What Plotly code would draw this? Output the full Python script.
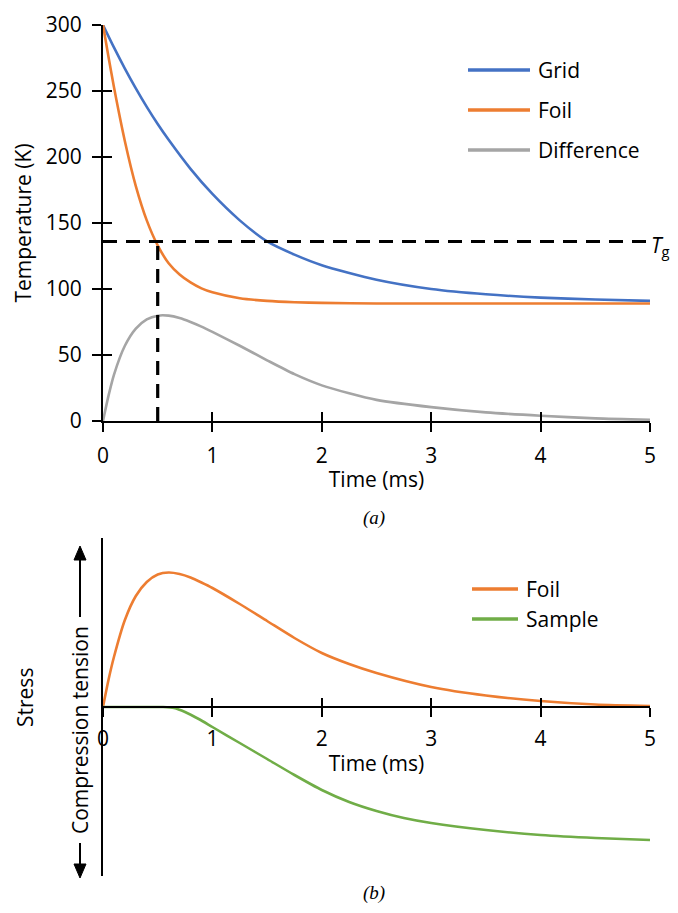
import plotly.graph_objects as go

# ---------------- data ----------------
t_grid = [0, 0.1, 0.2, 0.3, 0.4, 0.5, 0.6, 0.8, 1.0, 1.25, 1.5, 1.75, 2.0, 2.5, 3.0, 3.5, 4.0, 4.5, 5.0]
grid_T = [300, 283, 267, 252, 238, 225, 213, 191, 172, 152, 136, 126, 118, 107, 100, 96, 93.5, 92, 91]

t_foil = [0, 0.05, 0.1, 0.2, 0.3, 0.4, 0.5, 0.6, 0.7, 0.8, 0.9, 1.0, 1.25, 1.5, 1.75, 2.0, 2.5, 3.0, 4.0, 5.0]
foil_T = [300, 276, 253, 212, 178, 152, 133, 119.5, 111, 105, 100.5, 97.5, 93, 91, 90, 89.5, 89, 89, 89, 89]

t_diff = [0, 0.05, 0.1, 0.2, 0.3, 0.4, 0.5, 0.6, 0.7, 0.8, 0.9, 1.0, 1.25, 1.5, 1.75, 2.0, 2.25, 2.5, 3.0, 3.5, 4.0, 4.5, 5.0]
diff_T = [0, 19, 35, 57, 70, 77, 79.8, 79.8, 78, 75, 71.5, 67.5, 57, 46, 35.5, 27, 21, 16, 10.5, 6.5, 4, 2, 1]

TG_VALUE = 136     # glass transition temperature (K)
T_CROSS = 0.5      # time at which the foil reaches Tg (ms)

t_sf = [0, 0.05, 0.1, 0.2, 0.3, 0.4, 0.5, 0.6, 0.7, 0.8, 0.9, 1.0, 1.25, 1.5, 1.75, 2.0, 2.25, 2.5, 3.0, 3.5, 4.0, 4.5, 5.0]
stress_foil = [0, 27, 50, 87, 111, 125, 132.5, 134.5, 133, 129.5, 124.5, 119, 103, 86, 69, 54, 43, 34, 20, 11.5, 6, 2.5, 1]

t_ss = [0, 0.2, 0.4, 0.55, 0.65, 0.75, 0.875, 1.0, 1.25, 1.5, 1.75, 2.0, 2.25, 2.5, 2.75, 3.0, 3.5, 4.0, 4.5, 5.0]
stress_sample = [0, 0, 0, 0, -1, -5, -12, -20, -36, -52, -68, -83, -95, -104, -111, -116, -123, -128, -131, -133]

x_ticks = [0, 1, 2, 3, 4, 5]
y_ticks = [0, 50, 100, 150, 200, 250, 300]

# ---------------- styling ----------------
OFF = 8                      # page body margin of the browser
W, H = 678 - 2 * OFF, 913 - 2 * OFF
BLUE, ORANGE, GRAY, GREEN = "#4472C4", "#ED7D31", "#A5A5A5", "#70AD47"
FONT = "Open Sans"
FS = 21

def px_x(p):
    return (p - OFF) / W

def px_y(p):
    return 1 - (p - OFF) / H

xdom = [px_x(103), px_x(650)]
ydom_a = [px_y(421), px_y(25)]
ydom_b = [px_y(876), px_y(538)]

fig = go.Figure()

line_w = 2.6
spl = dict(shape="spline", smoothing=0.7)
fig.add_trace(go.Scatter(x=t_grid, y=grid_T, mode="lines", name="Grid",
                         line=dict(color=BLUE, width=line_w, **spl),
                         xaxis="x", yaxis="y", showlegend=False))
fig.add_trace(go.Scatter(x=t_foil, y=foil_T, mode="lines", name="Foil",
                         line=dict(color=ORANGE, width=line_w, **spl),
                         xaxis="x", yaxis="y", showlegend=False))
fig.add_trace(go.Scatter(x=t_diff, y=diff_T, mode="lines", name="Difference",
                         line=dict(color=GRAY, width=line_w, **spl),
                         xaxis="x", yaxis="y", showlegend=False))
# Tg dashed guide lines
fig.add_trace(go.Scatter(x=[x_ticks[0], x_ticks[-1]], y=[TG_VALUE, TG_VALUE], mode="lines",
                         line=dict(color="black", width=3.2, dash="14px,9px"),
                         xaxis="x", yaxis="y", showlegend=False, hoverinfo="skip"))
fig.add_trace(go.Scatter(x=[T_CROSS, T_CROSS], y=[0, TG_VALUE], mode="lines",
                         line=dict(color="black", width=3.2, dash="14px,9px"),
                         xaxis="x", yaxis="y", showlegend=False, hoverinfo="skip"))

# bottom panel
fig.add_trace(go.Scatter(x=t_sf, y=stress_foil, mode="lines", name="Foil",
                         line=dict(color=ORANGE, width=line_w, **spl),
                         xaxis="x2", yaxis="y2", showlegend=False))
fig.add_trace(go.Scatter(x=t_ss, y=stress_sample, mode="lines", name="Sample",
                         line=dict(color=GREEN, width=line_w, **spl),
                         xaxis="x2", yaxis="y2", showlegend=False))

# dummy traces for overlay (inside-tick) axes
fig.add_trace(go.Scatter(x=[None], y=[None], xaxis="x3", yaxis="y3", showlegend=False, hoverinfo="skip"))
fig.add_trace(go.Scatter(x=[None], y=[None], xaxis="x4", yaxis="y2", showlegend=False, hoverinfo="skip"))

tickfont = dict(family=FONT, size=FS, color="#000000")
common = dict(showgrid=False, zeroline=False, linecolor="black", linewidth=2,
              tickcolor="black", tickwidth=2, ticklen=9, automargin=False)

fig.update_layout(
    width=W, height=H, margin=dict(l=0, r=0, t=0, b=0, autoexpand=False),
    paper_bgcolor="white", plot_bgcolor="white",
    font=dict(family=FONT, size=FS, color="#000000"),
    xaxis=dict(domain=xdom, range=[0, 5], anchor="y", showline=True, ticks="outside",
               tickvals=x_ticks, tickfont=tickfont, ticklabelstandoff=6,
               title=dict(text="Time (ms)", font=tickfont, standoff=4), **common),
    yaxis=dict(domain=ydom_a, range=[0, 300], anchor="x", showline=True, ticks="outside",
               tickvals=y_ticks, tickfont=tickfont, ticklabelstandoff=6,
               title=dict(text="Temperature (K)", font=tickfont, standoff=8), **common),
    xaxis3=dict(overlaying="x", range=[0, 5], anchor="y", ticks="inside", tickvals=x_ticks,
                showticklabels=False, showline=False, **common),
    yaxis3=dict(overlaying="y", range=[0, 300], anchor="x", ticks="inside", tickvals=y_ticks,
                showticklabels=False, showline=False, **common),
    xaxis2=dict(domain=xdom, range=[0, 5], anchor="free", position=px_y(707), showline=True,
                ticks="outside", tickvals=x_ticks, tickfont=tickfont, ticklabelstandoff=4,
                title=dict(text="Time (ms)", font=tickfont, standoff=4), **common),
    xaxis4=dict(overlaying="x2", range=[0, 5], anchor="free", position=px_y(707), showline=False,
                ticks="inside", tickvals=x_ticks, showticklabels=False, **common),
    yaxis2=dict(domain=ydom_b, range=[-169, 169], anchor="x2", showline=True, ticks="",
                showticklabels=False, **common),
)

# manual legends
def legend_item(y_px, x0, x1, color, label):
    fig.add_shape(type="line", xref="paper", yref="paper", x0=px_x(x0), x1=px_x(x1),
                  y0=px_y(y_px), y1=px_y(y_px), line=dict(color=color, width=3.5))
    fig.add_annotation(xref="paper", yref="paper", x=px_x(x1 + 6), y=px_y(y_px), text=label,
                       showarrow=False, xanchor="left", yanchor="middle",
                       font=dict(family=FONT, size=FS, color="#000000"))

legend_item(70, 468, 530, BLUE, "Grid")
legend_item(110, 468, 530, ORANGE, "Foil")
legend_item(150, 468, 530, GRAY, "Difference")
legend_item(589, 472, 518, ORANGE, "Foil")
legend_item(619, 472, 518, GREEN, "Sample")

# Tg label
fig.add_annotation(xref="paper", yref="paper", x=px_x(670), y=px_y(246), xanchor="right", yanchor="middle",
                   text="<i>T</i><sub>g</sub>", showarrow=False, borderpad=0,
                   font=dict(family=FONT, size=FS, color="#000000"))

# panel labels
serif = dict(family="Liberation Serif", size=19, color="#000000")
fig.add_annotation(xref="paper", yref="paper", x=px_x(374), y=px_y(518), text="<i>(a)</i>",
                   showarrow=False, xanchor="center", yanchor="middle", font=serif)
fig.add_annotation(xref="paper", yref="paper", x=px_x(374), y=px_y(893), text="<i>(b)</i>",
                   showarrow=False, xanchor="center", yanchor="middle", font=serif)

# bottom y labels
fig.add_annotation(xref="paper", yref="paper", x=px_x(25), y=px_y(698), text="Stress",
                   textangle=-90, showarrow=False, xanchor="center", yanchor="middle",
                   font=dict(family=FONT, size=FS, color="#000000"))
fig.add_annotation(xref="paper", yref="paper", x=px_x(80), y=px_y(730), text="Compression tension",
                   textangle=-90, showarrow=False, xanchor="center", yanchor="middle",
                   font=dict(family=FONT, size=FS, color="#000000"))

# arrows beside the stress label (line + filled triangular head)
def arrow(x_px, y_tail, y_base, y_tip):
    fig.add_shape(type="line", xref="paper", yref="paper", x0=px_x(x_px), x1=px_x(x_px),
                  y0=px_y(y_tail), y1=px_y(y_base), line=dict(color="black", width=2))
    path = "M {a},{b} L {c},{d} L {e},{d} Z".format(
        a=px_x(x_px), b=px_y(y_tip), c=px_x(x_px - 6), d=px_y(y_base), e=px_x(x_px + 6))
    fig.add_shape(type="path", xref="paper", yref="paper", path=path,
                  fillcolor="black", line=dict(color="black", width=1))

arrow(80, 617, 560, 546)
arrow(80, 843, 864, 878)

fig.write_html("out.html")
